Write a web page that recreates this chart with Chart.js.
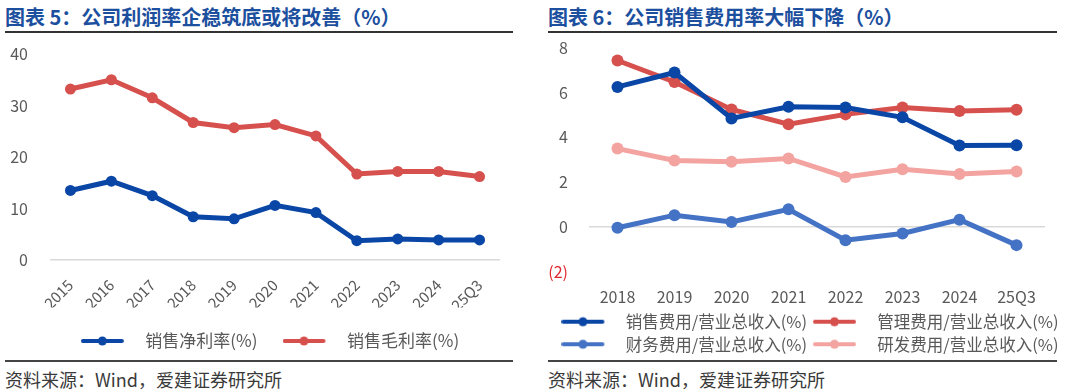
<!DOCTYPE html>
<html>
<head>
<meta charset="utf-8">
<script src="https://cdn.jsdelivr.net/npm/chart.js@4.4.1/dist/chart.umd.min.js"></script>
<style>
  body { margin: 0; background: #fff; width: 1080px; height: 391px; overflow: hidden; position: relative; font-family: "Noto Sans CJK SC", "Noto Sans", sans-serif; }
  .title { position: absolute; top: 2px; font-size: 20px; font-weight: bold; color: #1c4f9e; white-space: nowrap; }
  .rule { position: absolute; height: 2px; background: #333; }
  .rule.thin { height: 1.5px; background: #444; }
  .src { position: absolute; top: 366px; font-size: 18px; color: #3a3a3a; white-space: nowrap; }
  canvas { position: absolute; top: 36px; }
</style>
</head>
<body>
<div class="title" style="left:5px">图表 5：公司利润率企稳筑底或将改善（%）</div>
<div class="title" style="left:548px">图表 6：公司销售费用率大幅下降（%）</div>
<div class="rule" style="left:5px;width:508px;top:31px"></div>
<div class="rule" style="left:548px;width:509px;top:31px"></div>
<div class="rule thin" style="left:5px;width:508px;top:360px"></div>
<div class="rule thin" style="left:548px;width:509px;top:360px"></div>
<div class="src" style="left:5px">资料来源：Wind，爱建证券研究所</div>
<div class="src" style="left:548px">资料来源：Wind，爱建证券研究所</div>
<canvas id="profit" width="540" height="340" style="left:0"></canvas>
<canvas id="expense" width="540" height="330" style="left:540px"></canvas>
<script>
// 图表5 数据
var years5 = ['2015','2016','2017','2018','2019','2020','2021','2022','2023','2024','25Q3'];
var netMargin = [13.5, 15.3, 12.5, 8.4, 8.0, 10.6, 9.2, 3.75, 4.1, 3.9, 3.9];
var grossMargin = [33.2, 35.0, 31.5, 26.7, 25.7, 26.3, 24.1, 16.7, 17.2, 17.2, 16.2];

// 图表6 数据
var years6 = ['2018','2019','2020','2021','2022','2023','2024','25Q3'];
var salesExp = [6.26, 6.9, 4.85, 5.37, 5.34, 4.9, 3.64, 3.65];
var adminExp = [7.44, 6.48, 5.25, 4.59, 5.03, 5.34, 5.18, 5.24];
var finExp = [-0.04, 0.52, 0.22, 0.78, -0.6, -0.3, 0.32, -0.82];
var rdExp = [3.5, 2.97, 2.91, 3.06, 2.23, 2.57, 2.36, 2.47];

var DARK_BLUE = '#0a46a5';
var RED = '#d6504d';
var MID_BLUE = '#4472c4';
var PINK = '#f3a3a0';
var GRAY_TXT = '#595959';
var FONT = '"Noto Sans CJK SC", "Noto Sans", sans-serif';

// legend icon: line with a dot in the middle
var makeIcon = (color) => {
  var c = document.createElement('canvas');
  c.width = 56; c.height = 12;
  var ctx = c.getContext('2d');
  ctx.strokeStyle = color; ctx.lineWidth = 4; ctx.lineCap = 'round';
  ctx.beginPath(); ctx.moveTo(2, 6); ctx.lineTo(41, 6); ctx.stroke();
  ctx.fillStyle = color;
  ctx.beginPath(); ctx.arc(21.5, 6, 4.5, 0, Math.PI * 2); ctx.fill();
  return c;
};

var lineSet = (label, data, color, r) => ({
  label: label,
  data: data,
  borderColor: color,
  backgroundColor: color,
  borderWidth: 5,
  pointRadius: r,
  pointHoverRadius: r,
  pointBorderWidth: 0,
  tension: 0
});

var zeroGrid = ctx => ctx.tick && ctx.tick.value === 0 ? '#d9d9d9' : 'rgba(0,0,0,0)';

var legendWithIcons = (icons, size, pad) => ({
  position: 'bottom',
  labels: {
    usePointStyle: true,
    pointStyleWidth: 56,
    boxHeight: size,
    padding: pad,
    color: GRAY_TXT,
    font: { family: FONT, size: size },
    generateLabels: chart => Chart.defaults.plugins.legend.labels.generateLabels(chart)
      .map((it, i) => Object.assign(it, { pointStyle: icons[i] }))
  }
});

// dummy right axis keeps the plot narrower than the legend box
var spacerAxis = w => ({
  position: 'right',
  display: true,
  ticks: { display: false },
  grid: { display: false },
  border: { display: false },
  afterFit: s => { s.width = w; }
});

new Chart(document.getElementById('profit'), {
  type: 'line',
  data: {
    labels: years5,
    datasets: [
      lineSet('销售净利率(%)', netMargin, DARK_BLUE, 5.5),
      lineSet('销售毛利率(%)', grossMargin, RED, 5.5)
    ]
  },
  options: {
    responsive: false,
    animation: false,
    layout: { padding: { top: 18, left: 0, right: 0, bottom: 16.5 } },
    plugins: {
      tooltip: { enabled: false },
      legend: legendWithIcons([makeIcon(DARK_BLUE), makeIcon(RED)], 17, 25)
    },
    scales: {
      x: {
        offset: true,
        grid: { display: false },
        border: { display: false },
        ticks: { color: GRAY_TXT, font: { family: FONT, size: 15 }, minRotation: 45, maxRotation: 45, padding: 8 },
        afterFit: s => { s.height = 47.5; }
      },
      y: {
        min: 0, max: 40,
        ticks: { stepSize: 10, color: GRAY_TXT, font: { family: FONT, size: 16 }, padding: 0 },
        grid: { color: zeroGrid, lineWidth: 1.5, drawTicks: true, tickLength: 22, tickColor: 'rgba(0,0,0,0)' },
        border: { display: false },
        afterFit: s => { s.width = 50; }
      },
      yr: spacerAxis(40)
    }
  }
});

new Chart(document.getElementById('expense'), {
  type: 'line',
  data: {
    labels: years6,
    datasets: [
      lineSet('销售费用/营业总收入(%)', salesExp, DARK_BLUE, 6),
      lineSet('管理费用/营业总收入(%)', adminExp, RED, 6),
      lineSet('财务费用/营业总收入(%)', finExp, MID_BLUE, 6),
      lineSet('研发费用/营业总收入(%)', rdExp, PINK, 6)
    ]
  },
  options: {
    responsive: false,
    animation: false,
    layout: { padding: { top: 12, left: 0, right: 0, bottom: 3.5 } },
    plugins: {
      tooltip: { enabled: false },
      legend: legendWithIcons([
        makeIcon(DARK_BLUE), makeIcon(RED),
        makeIcon(MID_BLUE), makeIcon(PINK)
      ], 16.5, 6)
    },
    scales: {
      x: {
        offset: true,
        grid: { display: false },
        border: { display: false },
        ticks: { color: GRAY_TXT, font: { family: FONT, size: 16 }, maxRotation: 0, padding: 8 },
        afterFit: s => { s.height = 36; }
      },
      y: {
        min: -2, max: 8,
        ticks: {
          stepSize: 2,
          font: { family: FONT, size: 16 },
          padding: 0,
          color: ctx => ctx.tick.value < 0 ? '#e0282e' : GRAY_TXT,
          callback: v => v < 0 ? '(' + (-v) + ')' : v
        },
        grid: { color: zeroGrid, lineWidth: 1.5, drawTicks: true, tickLength: 21, tickColor: 'rgba(0,0,0,0)' },
        border: { display: false },
        afterFit: s => { s.width = 49; }
      },
      yr: spacerAxis(35)
    }
  }
});
</script>
</body>
</html>
